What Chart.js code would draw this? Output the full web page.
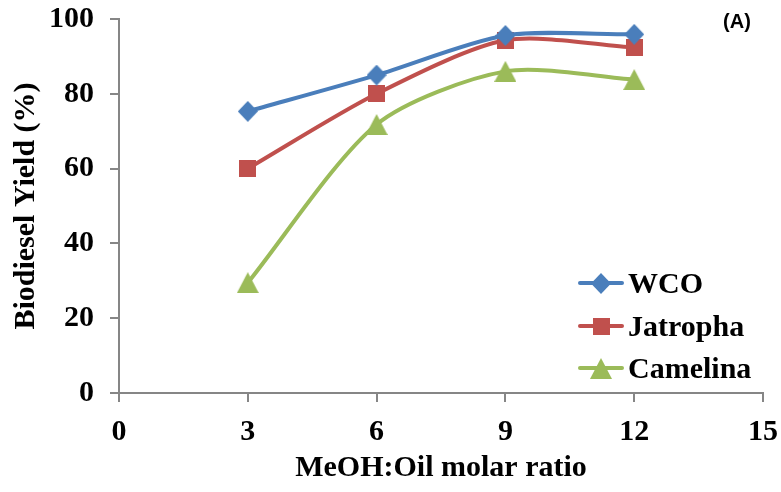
<!DOCTYPE html>
<html>
<head>
<meta charset="utf-8">
<script src="https://cdn.jsdelivr.net/npm/chart.js@4/dist/chart.umd.min.js"></script>
<style>
  html, body { margin: 0; padding: 0; background: #ffffff; }
  #wrap { width: 781px; height: 492px; position: relative; }
</style>
</head>
<body>
<div id="wrap"><canvas id="c" width="781" height="492"></canvas></div>
<script>
const xValues = [3, 6, 9, 12];
const seriesNames = ['WCO', 'Jatropha', 'Camelina'];
const wcoYield = [75.3, 85.0, 95.6, 95.9];
const jatrophaYield = [60.0, 80.0, 94.3, 92.4];
const camelinaYield = [29.5, 71.8, 86.0, 83.8];
const xTickMin = 0, xTickMax = 15, xTickStep = 3;
const yTickMin = 0, yTickMax = 100, yTickStep = 20;
const xTitle = 'MeOH:Oil molar ratio';
const yTitle = 'Biodiesel Yield (%)';
const panelLabel = '(A)';

const colors = ['#4A7EBB', '#C0504D', '#9BBB59'];
const seriesValues = [wcoYield, jatrophaYield, camelinaYield];

const serif = '"Liberation Serif", "Times New Roman", serif';
const axisGray = '#868686';

function pts(arr) { return xValues.map((x, i) => ({ x: x, y: arr[i] })); }

function makeMarker(kind, color, w, h) {
  const c = document.createElement('canvas');
  c.width = w; c.height = h;
  const g = c.getContext('2d');
  g.fillStyle = color;
  g.beginPath();
  if (kind === 'diamond') {
    g.moveTo(w / 2, 0); g.lineTo(w, h / 2); g.lineTo(w / 2, h); g.lineTo(0, h / 2);
  } else if (kind === 'square') {
    g.rect(0, 0, w, h);
  } else {
    g.moveTo(w / 2, 0); g.lineTo(w, h); g.lineTo(0, h);
  }
  g.closePath();
  g.fill();
  return c;
}
const markers = [
  makeMarker('diamond', colors[0], 20, 21),
  makeMarker('square', colors[1], 17, 17),
  makeMarker('triangle', colors[2], 22, 21)
];

const datasets = seriesNames.map((name, i) => ({
  label: name,
  data: pts(seriesValues[i]),
  borderColor: colors[i],
  backgroundColor: colors[i],
  borderWidth: 4,
  tension: 0.27,
  pointStyle: markers[i],
  pointRadius: 10,
  pointHoverRadius: 10,
  fill: false
}));

const extras = {
  id: 'extras',
  afterDraw(chart) {
    const ctx = chart.ctx;
    const rowY = [283, 326, 368];
    seriesNames.forEach((name, i) => {
      const y = rowY[i];
      ctx.save();
      ctx.strokeStyle = colors[i];
      ctx.lineWidth = 4;
      ctx.lineCap = 'round';
      ctx.beginPath();
      ctx.moveTo(580, y); ctx.lineTo(622, y);
      ctx.stroke();
      const m = markers[i];
      ctx.drawImage(m, Math.round(601 - m.width / 2), Math.round(y - m.height / 2));
      ctx.fillStyle = '#000000';
      ctx.font = 'bold 30px ' + serif;
      ctx.textAlign = 'left';
      ctx.textBaseline = 'middle';
      ctx.fillText(name, 628, y + 2);
      ctx.restore();
    });
    ctx.save();
    ctx.fillStyle = '#000000';
    ctx.font = 'bold 20px "Liberation Sans", Arial, sans-serif';
    ctx.textAlign = 'center';
    ctx.textBaseline = 'middle';
    ctx.fillText(panelLabel, 737, 22);
    ctx.restore();
  }
};

new Chart(document.getElementById('c'), {
  type: 'line',
  data: { datasets: datasets },
  options: {
    responsive: false,
    animation: false,
    events: [],
    layout: { padding: { top: 19, right: 18, bottom: 0, left: 0 } },
    plugins: { legend: { display: false }, tooltip: { enabled: false } },
    scales: {
      x: {
        type: 'linear',
        min: xTickMin, max: xTickMax,
        ticks: {
          stepSize: xTickStep,
          color: '#000000',
          font: { family: serif, size: 30, weight: 'bold' },
          padding: 12,
          maxRotation: 0
        },
        grid: { drawOnChartArea: false, drawTicks: true, tickLength: 9, color: axisGray, lineWidth: 2 },
        border: { display: true, color: axisGray, width: 2 },
        title: {
          display: true, text: xTitle, color: '#000000',
          font: { family: serif, size: 30, weight: 'bold' },
          padding: { top: 0, bottom: 6 }
        },
        afterFit(scale) { scale.height = 99; scale.paddingLeft = 0; scale.paddingRight = 0; }
      },
      y: {
        type: 'linear',
        min: yTickMin, max: yTickMax,
        ticks: {
          stepSize: yTickStep,
          color: '#000000',
          font: { family: serif, size: 30, weight: 'bold' },
          padding: 16
        },
        grid: { drawOnChartArea: false, drawTicks: true, tickLength: 9, color: axisGray, lineWidth: 2 },
        border: { display: true, color: axisGray, width: 2 },
        title: {
          display: true, text: yTitle, color: '#000000',
          font: { family: serif, size: 30, weight: 'bold' },
          padding: { top: 8, bottom: 0 }
        },
        afterFit(scale) { scale.width = 119; scale.paddingTop = 0; scale.paddingBottom = 0; }
      }
    }
  },
  plugins: [extras]
});
</script>
</body>
</html>
